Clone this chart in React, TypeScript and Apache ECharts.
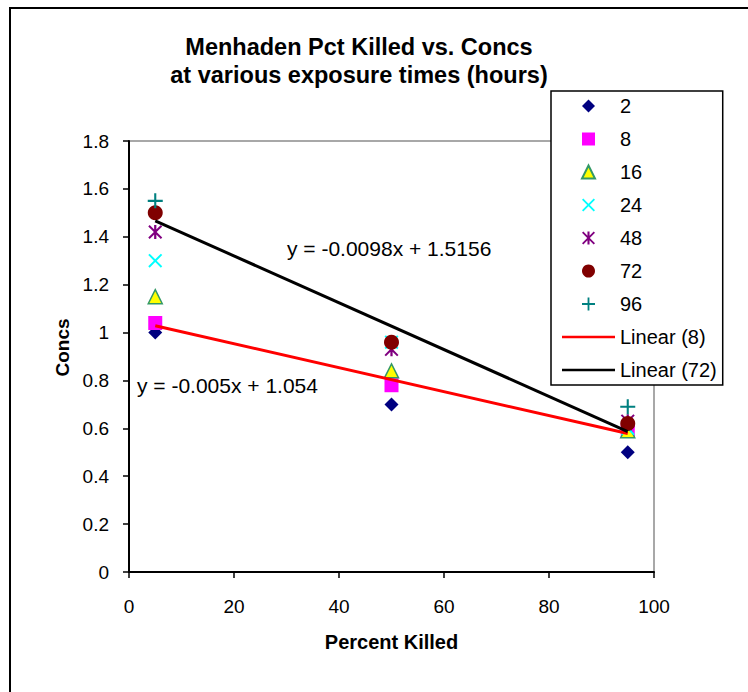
import React, { useEffect, useRef } from "react";
import * as echarts from "echarts";

const xValues = [5, 50, 95];
const seriesNames = ["2", "8", "16", "24", "48", "72", "96"];
const conc2 = [1.0, 0.7, 0.5];
const conc8 = [1.04, 0.78, 0.59];
const conc16 = [1.15, 0.84, 0.59];
const conc24 = [1.3, 0.96, 0.6];
const conc48 = [1.42, 0.93, 0.63];
const conc72 = [1.5, 0.96, 0.62];
const conc96: (number | null)[] = [1.55, null, 0.69];
const xTicks = { min: 0, max: 100, interval: 20 };
const yTicks = { min: 0, max: 1.8, interval: 0.2 };
const eq8 = "y = -0.005x + 1.054";
const eq72 = "y = -0.0098x + 1.5156";

const FONT = "Liberation Sans, Arial, sans-serif";

const X_PATH = "path://M1,0L5,4L9,0L10,1L6,5L10,9L9,10L5,6L1,10L0,9L4,5L0,1Z";
const STAR_PATH =
  "path://M1,0L5,4L9,0L10,1L6,5L10,9L9,10L5,6L1,10L0,9L4,5L0,1Z M4.2,0H5.8V10H4.2Z";
const PLUS_PATH = "path://M4.3,0H5.7V4.3H10V5.7H5.7V10H4.3V5.7H0V4.3H4.3Z";
const DIAMOND_PATH = "path://M5,0L10,5L5,10L0,5Z";
const SQUARE_PATH = "path://M0,0H10V10H0Z";
const TRIANGLE_PATH = "path://M5,0L10,10H0Z";
const CIRCLE_PATH = "path://M5,0A5,5,0,1,1,4.99,0Z";
const LINE_PATH = "path://M0,0H100V5H0Z";

function fit(xs: number[], ys: number[]) {
  const n = xs.length;
  const mx = xs.reduce((a, b) => a + b, 0) / n;
  const my = ys.reduce((a, b) => a + b, 0) / n;
  let sxy = 0;
  let sxx = 0;
  for (let i = 0; i < n; i++) {
    sxy += (xs[i] - mx) * (ys[i] - my);
    sxx += (xs[i] - mx) * (xs[i] - mx);
  }
  const slope = sxy / sxx;
  const icpt = my - slope * mx;
  const x0 = xs[0];
  const x1 = xs[n - 1];
  return [
    [x0, slope * x0 + icpt],
    [x1, slope * x1 + icpt],
  ];
}

function pts(ys: (number | null)[]) {
  return xValues
    .map((x, i) => (ys[i] == null ? null : [x, ys[i]]))
    .filter((p) => p !== null);
}

export default function App() {
  const ref = useRef<HTMLDivElement>(null);
  useEffect(() => {
    if (!ref.current) return;
    const chart = echarts.init(ref.current, null, { renderer: "svg" });
    const scatter = (
      name: string,
      ys: (number | null)[],
      symbol: string,
      size: number,
      color: string,
      extra: any = {}
    ) => ({
      name,
      type: "scatter",
      data: pts(ys),
      symbol,
      symbolSize: size,
      itemStyle: { color, opacity: 1, ...extra },
      z: 3,
    });
    const legendIcons = [
      DIAMOND_PATH,
      SQUARE_PATH,
      TRIANGLE_PATH,
      X_PATH,
      STAR_PATH,
      CIRCLE_PATH,
      PLUS_PATH,
    ];
    chart.setOption({
      animation: false,
      backgroundColor: "#fff",
      textStyle: { fontFamily: FONT },
      title: {
        text: "Menhaden Pct Killed vs. Concs\nat various exposure times (hours)",
        left: 354,
        top: 28,
        textAlign: "center",
        textStyle: {
          fontFamily: FONT,
          fontWeight: "bold",
          fontSize: 23.5,
          lineHeight: 28,
          color: "#000",
        },
      },
      grid: {
        left: 129,
        right: 94,
        top: 141,
        bottom: 120,
        show: true,
        borderColor: "#8c8c8c",
        borderWidth: 1.5,
        backgroundColor: "#fff",
      },
      legend: {
        orient: "vertical",
        left: 551,
        top: 91,
        padding: [5, 6, 5, 11],
        itemWidth: 53,
        itemHeight: 13,
        itemGap: 13,
        borderColor: "#000",
        borderWidth: 1.5,
        backgroundColor: "#fff",
        z: 10,
        textStyle: { fontFamily: FONT, fontSize: 20, color: "#000", lineHeight: 20 },
        data: [
          ...seriesNames.map((n, i) => ({ name: n, icon: legendIcons[i] })),
          { name: "Linear (8)", icon: LINE_PATH },
          { name: "Linear (72)", icon: LINE_PATH },
        ],
      },
      xAxis: {
        type: "value",
        min: xTicks.min,
        max: xTicks.max,
        interval: xTicks.interval,
        name: "Percent Killed",
        nameLocation: "middle",
        nameGap: 60,
        nameTextStyle: { fontFamily: FONT, fontWeight: "bold", fontSize: 20, color: "#000" },
        axisLine: { show: true, onZero: false, lineStyle: { color: "#000", width: 2 } },
        axisTick: { show: true, length: 6, lineStyle: { color: "#000", width: 1.5 } },
        axisLabel: { fontFamily: FONT, fontSize: 19, color: "#000", margin: 25 },
        splitLine: { show: false },
      },
      yAxis: {
        type: "value",
        min: yTicks.min,
        max: yTicks.max,
        interval: yTicks.interval,
        name: "Concs",
        nameLocation: "middle",
        nameGap: 54,
        nameTextStyle: {
          fontFamily: FONT,
          fontWeight: "bold",
          fontSize: 19,
          color: "#000",
          padding: [0, 0, 0, 18],
        },
        axisLine: { show: true, onZero: false, lineStyle: { color: "#000", width: 2 } },
        axisTick: { show: true, length: 6, lineStyle: { color: "#000", width: 1.5 } },
        axisLabel: { fontFamily: FONT, fontSize: 19, color: "#000", margin: 20 },
        splitLine: { show: false },
      },
      graphic: [
        {
          type: "rect",
          shape: { x: 10, y: 8, width: 900, height: 900 },
          style: { fill: "none", stroke: "#000", lineWidth: 2 },
          z: -1,
          silent: true,
        },
        {
          type: "text",
          left: 287,
          top: 238,
          style: { text: eq72, fontFamily: FONT, fontSize: 21, fill: "#000" },
          z: 5,
        },
        {
          type: "text",
          left: 137,
          top: 375,
          style: { text: eq8, fontFamily: FONT, fontSize: 21, fill: "#000" },
          z: 5,
        },
      ],
      series: [
        scatter("2", conc2, "diamond", 14, "#000080"),
        scatter("8", conc8, "rect", 14, "#ff00ff"),
        scatter("16", conc16, "triangle", 14, "#ffff00", {
          borderColor: "#339966",
          borderWidth: 1.5,
        }),
        scatter("24", conc24, X_PATH, 14, "#00ffff"),
        scatter("48", conc48, STAR_PATH, 14, "#800080"),
        scatter("72", conc72, "circle", 15, "#800000"),
        scatter("96", conc96, PLUS_PATH, 15, "#008080"),
        {
          name: "Linear (8)",
          type: "line",
          data: fit(xValues, conc8),
          symbol: "none",
          lineStyle: { color: "#ff0000", width: 3 },
          itemStyle: { color: "#ff0000" },
          z: 6,
        },
        {
          name: "Linear (72)",
          type: "line",
          data: fit(xValues, conc72),
          symbol: "none",
          lineStyle: { color: "#000000", width: 3 },
          itemStyle: { color: "#000000" },
          z: 6,
        },
      ],
    });
    return () => chart.dispose();
  }, []);
  return (
    <div
      ref={ref}
      style={{ position: "fixed", left: 0, top: 0, width: 748, height: 692, background: "#fff" }}
    />
  );
}
